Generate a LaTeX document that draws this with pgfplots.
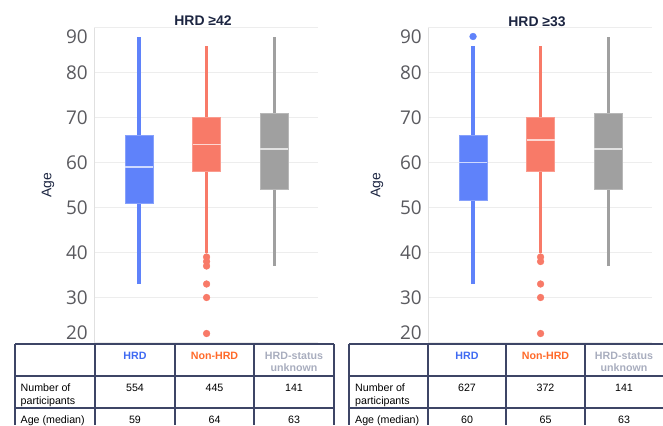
\documentclass[border=0pt]{standalone}
\usepackage{pgfplots}
\pgfplotsset{compat=1.18}
\usepackage{fontspec}
\setmainfont{Liberation Sans}
\newfontfamily\opensans{Open Sans}
\definecolor{hrdb}{HTML}{5F82FA}
\definecolor{nonh}{HTML}{F87A68}
\definecolor{unkg}{HTML}{A0A0A0}
\definecolor{navy}{HTML}{1C2541}
\definecolor{tabl}{HTML}{3D4566}
\definecolor{hdrb}{HTML}{3F6AF2}
\definecolor{hdro}{HTML}{FF6A2A}
\definecolor{hdrg}{HTML}{A8ADBE}
\definecolor{tickg}{HTML}{5A5A5F}
\newcommand\tickf{\opensans\fontsize{19}{22}\selectfont}
\newcommand\tabf{\fontsize{10.7}{12.8}\selectfont}
\pgfplotsset{
  myaxis/.style={
    scale only axis, width=224bp, height=315bp,
    anchor=south west,
    xmin=-0.667, xmax=2.65, ymin=20, ymax=90,
    axis x line=none, axis y line=left,
    y axis line style={-, draw=black!12, line width=0.8bp},
    ytick={20,30,...,90},
    yticklabels={,30,40,50,60,70,80,},
    major tick length=0pt,
    ymajorgrids, grid style={draw=black!7, line width=0.8bp},
    yticklabel style={font=\tickf, text=tickg, inner sep=0pt, xshift=-6bp},
    clip=false,
  },
}
% box: left x, right x, centre x, lower whisker, q1, median, q3, upper whisker, colour
\newcommand\bx[9]{%
  \addplot[draw=#9, line width=3.2bp] coordinates {(#3,#4) (#3,#5)};
  \addplot[draw=#9, line width=3.2bp] coordinates {(#3,#7) (#3,#8)};
  \addplot[fill=#9, draw=#9!75!white, line width=1bp] coordinates {(#1,#5) (#2,#5) (#2,#7) (#1,#7) (#1,#5)};
  \addplot[draw=#9!30!white, line width=1.2bp] coordinates {(#1,#6) (#2,#6)};
}
\newcommand\outl[1]{\addplot[only marks, mark=*, mark size=3.4bp, mark options={fill=#1, draw=#1, line width=0.4bp}]}
\begin{document}
\begin{tikzpicture}[x=1bp,y=1bp]
\useasboundingbox (0,0) rectangle (663,425);

% ---------- left panel ----------
\begin{axis}[myaxis, at={(94bp,82.5bp)}]
\bx{-0.2075}{0.2075}{0}{33}{51}{59}{66}{88}{hrdb}
\bx{0.7925}{1.2075}{1}{40}{58}{64}{70}{86}{nonh}
\bx{1.7925}{2.2075}{2}{37}{54}{63}{71}{88}{unkg}
\outl{nonh} coordinates {(1,39) (1,38) (1,37) (1,33) (1,30) (1,22)};
\node[anchor=east, font=\tickf, text=tickg, inner sep=0pt] at ([xshift=-6bp,yshift=-9.5bp]rel axis cs:0,1) {90};
\node[anchor=east, font=\tickf, text=tickg, inner sep=0pt] at ([xshift=-6bp,yshift=9.5bp]rel axis cs:0,0) {20};
\end{axis}

% ---------- right panel ----------
\begin{axis}[myaxis, at={(428bp,82.5bp)}]
\bx{-0.2075}{0.2075}{0}{33}{51.5}{60}{66}{86}{hrdb}
\bx{0.7925}{1.2075}{1}{40}{58}{65}{70}{86}{nonh}
\bx{1.7925}{2.2075}{2}{37}{54}{63}{71}{88}{unkg}
\outl{hrdb} coordinates {(0,88)};
\outl{nonh} coordinates {(1,39) (1,38) (1,33) (1,30) (1,22)};
\node[anchor=east, font=\tickf, text=tickg, inner sep=0pt] at ([xshift=-6bp,yshift=-9.5bp]rel axis cs:0,1) {90};
\node[anchor=east, font=\tickf, text=tickg, inner sep=0pt] at ([xshift=-6bp,yshift=9.5bp]rel axis cs:0,0) {20};
\end{axis}

% titles and axis labels
\node[font=\bfseries\fontsize{14}{16}\selectfont, text=navy] at (203,404) {HRD ≥42};
\node[font=\bfseries\fontsize{14}{16}\selectfont, text=navy] at (537,403) {HRD ≥33};
\node[font=\fontsize{14}{16}\selectfont, text=navy, rotate=90] at (48,240) {Age};
\node[font=\fontsize{14}{16}\selectfont, text=navy, rotate=90] at (377,240) {Age};

% ---------- left table ----------
\begin{scope}[tabl, line width=1.2bp]
\draw (15,81) -- (334,81);
\draw (15,49) -- (334,49);
\draw (15,17) -- (334,17);
\foreach \xx in {15,95,175,254,334} \draw (\xx,81) -- (\xx,0);
\end{scope}
\begin{scope}[every node/.style={font=\tabf, inner sep=0pt}]
\node[anchor=base, text=hdrb, font=\tabf\bfseries] at (135,66) {HRD};
\node[anchor=base, text=hdro, font=\tabf\bfseries] at (214.5,66) {Non-HRD};
\node[anchor=base, text=hdrg, font=\tabf\bfseries] at (294,66) {HRD-status};
\node[anchor=base, text=hdrg, font=\tabf\bfseries] at (294,54) {unknown};
\node[anchor=base west] at (20.5,34) {Number of};
\node[anchor=base west] at (20.5,21) {participants};
\node[anchor=base west] at (20.5,2) {Age (median)};
\node[anchor=base] at (135,34) {554};
\node[anchor=base] at (214.5,34) {445};
\node[anchor=base] at (294,34) {141};
\node[anchor=base] at (135,2) {59};
\node[anchor=base] at (214.5,2) {64};
\node[anchor=base] at (294,2) {63};
\end{scope}

% ---------- right table ----------
\begin{scope}[tabl, line width=1.2bp]
\draw (349,81) -- (663,81);
\draw (349,49) -- (663,49);
\draw (349,17) -- (663,17);
\foreach \xx in {349,428,506,585} \draw (\xx,81) -- (\xx,0);
\end{scope}
\begin{scope}[every node/.style={font=\tabf, inner sep=0pt}]
\node[anchor=base, text=hdrb, font=\tabf\bfseries] at (467,66) {HRD};
\node[anchor=base, text=hdro, font=\tabf\bfseries] at (545.5,66) {Non-HRD};
\node[anchor=base, text=hdrg, font=\tabf\bfseries] at (624,66) {HRD-status};
\node[anchor=base, text=hdrg, font=\tabf\bfseries] at (624,54) {unknown};
\node[anchor=base west] at (355,34) {Number of};
\node[anchor=base west] at (355,21) {participants};
\node[anchor=base west] at (355,2) {Age (median)};
\node[anchor=base] at (467,34) {627};
\node[anchor=base] at (545.5,34) {372};
\node[anchor=base] at (624,34) {141};
\node[anchor=base] at (467,2) {60};
\node[anchor=base] at (545.5,2) {65};
\node[anchor=base] at (624,2) {63};
\end{scope}
\end{tikzpicture}
\end{document}
